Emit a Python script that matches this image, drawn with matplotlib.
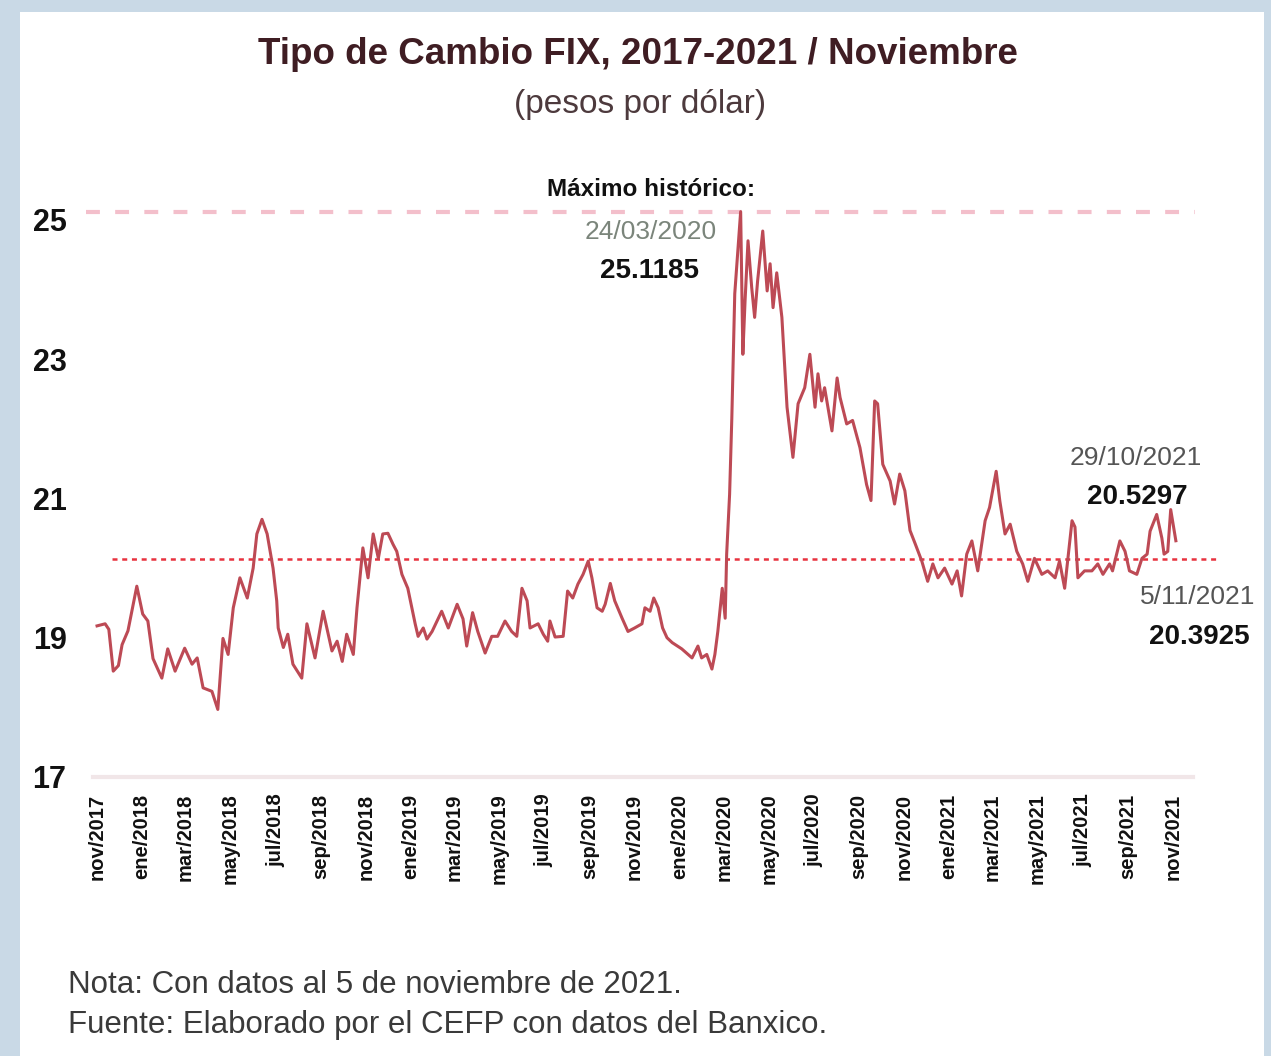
import matplotlib
matplotlib.use('Agg')
import matplotlib.pyplot as plt
from matplotlib.patches import Rectangle
import numpy as np
import pandas as pd

# tipo de cambio FIX (pesos por dolar)
fecha_inicio = '2017-11-01'
dias = [0, 11, 16, 22, 29, 34, 42, 54, 62, 69, 76, 88, 96, 106, 119, 129, 136, 144, 156, 164,
        171, 178, 185, 194, 204, 212, 217, 224, 231, 239, 244, 246, 253, 259, 266, 278, 285, 296, 307, 319,
        326, 333, 339, 348, 353, 361, 368, 375, 382, 388, 395, 402, 407, 414, 422, 432, 436, 443, 448, 455,
        468, 477, 489, 497, 502, 510, 517, 527, 536, 544, 554, 563, 570, 577, 584, 588, 599, 606, 612, 615,
        622, 633, 639, 646, 653, 660, 667, 672, 679, 686, 690, 697, 703, 713, 721, 730, 740, 744, 751, 756,
        762, 768, 774, 781, 794, 808, 816, 821, 828, 835, 839, 843, 849, 853, 855, 859, 862, 866, 874, 877,
        880, 884, 889, 893, 897, 904, 910, 914, 918, 923, 930, 937, 945, 952, 961, 968, 975, 979, 984, 988,
        998, 1005, 1009, 1018, 1026, 1036, 1045, 1051, 1056, 1060, 1067, 1077, 1083, 1090, 1097, 1104, 1111, 1120, 1128, 1135,
        1142, 1151, 1161, 1168, 1174, 1181, 1188, 1196, 1206, 1212, 1221, 1226, 1233, 1240, 1249, 1257, 1264, 1273, 1283, 1291,
        1301, 1307, 1314, 1324, 1328, 1332, 1341, 1351, 1359, 1366, 1375, 1379, 1389, 1396, 1402, 1412, 1419, 1426, 1430, 1439,
        1446, 1449, 1454, 1458, 1465]
tipo_cambio = [19.17, 19.20, 19.12, 18.52, 18.60, 18.90, 19.10, 19.74, 19.34, 19.24, 18.70, 18.42, 18.84, 18.52, 18.85, 18.62, 18.71, 18.28, 18.23, 17.97,
               18.99, 18.76, 19.43, 19.86, 19.57, 20.00, 20.49, 20.70, 20.49, 20.00, 19.53, 19.14, 18.86, 19.05, 18.62, 18.42, 19.20, 18.71, 19.38, 18.81,
               18.95, 18.66, 19.05, 18.76, 19.43, 20.29, 19.86, 20.49, 20.14, 20.49, 20.50, 20.34, 20.24, 19.91, 19.71, 19.20, 19.02, 19.14, 18.98, 19.09,
               19.38, 19.14, 19.48, 19.27, 18.88, 19.36, 19.09, 18.78, 19.02, 19.02, 19.24, 19.09, 19.02, 19.71, 19.53, 19.14, 19.20, 19.05, 18.95, 19.24,
               19.01, 19.02, 19.67, 19.57, 19.77, 19.91, 20.10, 19.86, 19.43, 19.38, 19.48, 19.78, 19.53, 19.28, 19.09, 19.14, 19.20, 19.43, 19.38, 19.57,
               19.43, 19.14, 19.00, 18.93, 18.84, 18.71, 18.88, 18.71, 18.76, 18.55, 18.76, 19.09, 19.71, 19.28, 20.20, 21.06, 22.15, 23.94, 25.1185, 23.07,
               23.84, 24.70, 24.03, 23.60, 24.12, 24.84, 23.98, 24.37, 23.74, 24.24, 23.60, 22.31, 21.59, 22.36, 22.59, 23.07, 22.31, 22.79, 22.40, 22.59,
               21.97, 22.73, 22.45, 22.07, 22.12, 21.73, 21.20, 20.97, 22.40, 22.36, 21.49, 21.25, 20.92, 21.35, 21.11, 20.54, 20.35, 20.10, 19.81, 20.06,
               19.86, 20.00, 19.77, 19.96, 19.60, 20.20, 20.39, 19.96, 20.68, 20.87, 21.39, 20.96, 20.49, 20.63, 20.24, 20.06, 19.81, 20.14, 19.91, 19.96,
               19.86, 20.10, 19.71, 20.68, 20.59, 19.86, 19.96, 19.96, 20.06, 19.91, 20.06, 19.96, 20.39, 20.24, 19.96, 19.91, 20.14, 20.20, 20.53, 20.77,
               20.43, 20.20, 20.24, 20.84, 20.3925]
promedio = 20.13
maximo = 25.1185
meses = {11: 'nov', 1: 'ene', 3: 'mar', 5: 'may', 7: 'jul', 9: 'sep'}

fechas = pd.Timestamp(fecha_inicio) + pd.to_timedelta(dias, unit='D')
ticks = pd.date_range('2017-11-01', '2021-11-01', freq='2MS')
etiquetas_x = [f'{meses[t.month]}/{t.year}' for t in ticks]

plt.rcParams['font.family'] = ['Liberation Sans', 'DejaVu Sans']
plt.rcParams['lines.scale_dashes'] = False

W, H = 1271, 1056
fig = plt.figure(figsize=(W/100, H/100), dpi=100)
fig.patch.set_facecolor('#c9d9e6')
fig.patches.append(Rectangle((20/W, 0), 1244/W, 1044/H, transform=fig.transFigure,
                             facecolor='white', edgecolor='none', zorder=-5))

ax = fig.add_axes([86/W, (H-777)/H, (1195-86)/W, (777-199)/H])
ax.set_facecolor('none')
x0 = pd.Timestamp(fecha_inicio) + pd.Timedelta(days=-15)
x1 = pd.Timestamp(fecha_inicio) + pd.Timedelta(days=1491)
ax.set_xlim(x0, x1)
ax.set_ylim(17, 25.3)

# linea base en 17
ax.plot([x0 + pd.Timedelta(days=10), x1 - pd.Timedelta(days=3)], [17, 17], color='#f1e6e8', lw=3, zorder=1, clip_on=False)
# maximo historico
ax.plot([x0, x1], [maximo, maximo], color='#f3bfcb', lw=3, linestyle=(0, (10, 11)), zorder=1, clip_on=False)
# linea punteada roja
ax.plot([pd.Timestamp(fecha_inicio) + pd.Timedelta(days=20), x1 + pd.Timedelta(days=34)], [promedio, promedio],
        color='#e8323f', lw=1.8, linestyle=(0, (3.6, 3.4)), zorder=2, clip_on=False)
ax.plot(fechas, tipo_cambio, color='#bd4a55', lw=2.2, zorder=3)

for s in ax.spines.values():
    s.set_visible(False)
ax.set_yticks([17, 19, 21, 23, 25])
ax.set_yticklabels(['17', '19', '21', '23', '25'], fontsize=22, fontweight='bold', color='#111111')
ax.tick_params(axis='y', length=0, pad=14)
ax.set_xticks(ticks)
ax.set_xticklabels(etiquetas_x, rotation=90, fontsize=14.5, fontweight='bold', color='#111111')
ax.tick_params(axis='x', length=0, pad=12)

def ftxt(x, y, s, **kw):
    fig.text(x/W, 1 - y/H, s, **kw)

ftxt(638, 55, 'Tipo de Cambio FIX, 2017-2021 / Noviembre', ha='center', va='center',
     fontsize=26.5, fontweight='bold', color='#3f1d23')
ftxt(640, 105, '(pesos por dólar)', ha='center', va='center', fontsize=24, color='#4d3a3d')
ftxt(651, 190, 'Máximo histórico:', ha='center', va='center', fontsize=17.5, fontweight='bold', color='#111111')
ftxt(651, 232, '24/03/2020', ha='center', va='center', fontsize=19, color='#7b857b')
ftxt(650, 271, '25.1185', ha='center', va='center', fontsize=20, fontweight='bold', color='#111111')
ftxt(1136, 458, '29/10/2021', ha='center', va='center', fontsize=19, color='#555555')
ftxt(1137, 497, '20.5297', ha='center', va='center', fontsize=20, fontweight='bold', color='#111111')
ftxt(1198, 597, '5/11/2021', ha='center', va='center', fontsize=19, color='#555555')
ftxt(1199, 637, '20.3925', ha='center', va='center', fontsize=20, fontweight='bold', color='#111111')
ftxt(68, 985, 'Nota: Con datos al 5 de noviembre de 2021.', ha='left', va='center', fontsize=22.5, color='#3a3a3a')
ftxt(68, 1025, 'Fuente: Elaborado por el CEFP con datos del Banxico.', ha='left', va='center', fontsize=22.5, color='#3a3a3a')

fig.savefig('out.png', dpi=100, facecolor=fig.get_facecolor())
